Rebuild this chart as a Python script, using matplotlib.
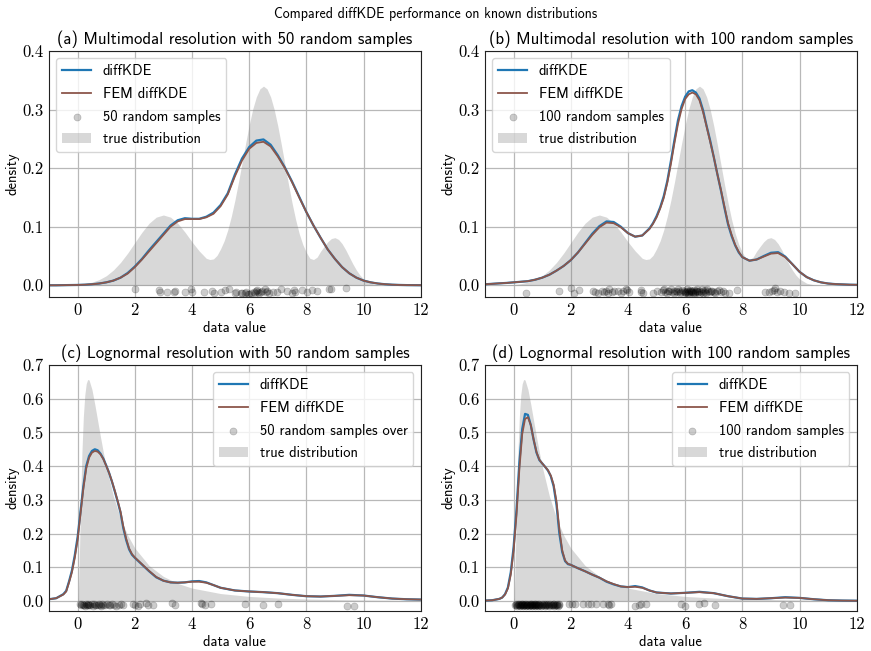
import matplotlib
matplotlib.use('Agg')
import matplotlib.pyplot as plt
import numpy as np

# --- data ---
# multimodal panels (a), (b)
x_true_mm = [-1, -0.75, -0.5, -0.25, 0, 0.25, 0.5, 0.75, 1, 1.25, 1.5, 1.75, 2, 2.25, 2.5,
             2.75, 3, 3.25, 3.5, 3.75, 4, 4.25, 4.5, 4.625, 4.75, 4.875, 5, 5.125, 5.25,
             5.375, 5.5, 5.625, 5.75, 5.875, 6, 6.125, 6.25, 6.375, 6.5, 6.625, 6.75,
             6.875, 7, 7.125, 7.25, 7.375, 7.5, 7.625, 7.75, 7.875, 8, 8.125, 8.25, 8.375,
             8.5, 8.625, 8.75, 8.875, 9, 9.125, 9.25, 9.375, 9.5, 9.625, 9.75, 9.875, 10,
             10.25, 10.5, 10.75, 11, 11.5, 12]
true_mm = [0.0, 0.0001, 0.0003, 0.0006, 0.0013, 0.0027, 0.0053, 0.0096, 0.0162, 0.0260,
           0.0390, 0.0549, 0.0728, 0.0906, 0.1059, 0.1163, 0.1200, 0.1163, 0.1060, 0.0910,
           0.0741, 0.0587, 0.0460, 0.0440, 0.0450, 0.0510, 0.0622, 0.0759, 0.0944, 0.1176,
           0.1451, 0.1759, 0.2089, 0.2421, 0.2735, 0.3009, 0.3216, 0.3353, 0.3400, 0.3353,
           0.3216, 0.3001, 0.2722, 0.2402, 0.2062, 0.1725, 0.1407, 0.1122, 0.0883, 0.0697,
           0.0560, 0.0460, 0.0440, 0.0480, 0.0582, 0.0665, 0.0744, 0.0798, 0.0813, 0.0783,
           0.0710, 0.0606, 0.0486, 0.0366, 0.0260, 0.0173, 0.0108, 0.0035, 0.0009, 0.0002,
           0.0, 0.0, 0.0]

x_a = np.arange(-1, 12.01, 0.25)
kde_a = [0.0, 0.0, 0.0002, 0.0004, 0.0006, 0.001, 0.0018, 0.003, 0.005, 0.008,
         0.013, 0.021, 0.032, 0.045, 0.060, 0.074, 0.088, 0.102, 0.111, 0.1145,
         0.1135, 0.1135, 0.117, 0.124, 0.137, 0.157, 0.189, 0.2165, 0.236, 0.247,
         0.249, 0.240, 0.222, 0.201, 0.177, 0.151, 0.125, 0.102, 0.081, 0.061,
         0.045, 0.031, 0.0205, 0.013, 0.008, 0.005, 0.003, 0.0018, 0.001, 0.0006,
         0.0003, 0.0002, 0.0001]
fem_a = [0.0, 0.0, 0.0002, 0.0004, 0.0006, 0.001, 0.0018, 0.003, 0.005, 0.008,
         0.013, 0.020, 0.031, 0.044, 0.058, 0.072, 0.086, 0.100, 0.109, 0.113,
         0.113, 0.113, 0.116, 0.122, 0.135, 0.155, 0.186, 0.213, 0.233, 0.243,
         0.245, 0.237, 0.220, 0.200, 0.176, 0.150, 0.125, 0.102, 0.081, 0.061,
         0.045, 0.031, 0.0205, 0.013, 0.008, 0.005, 0.003, 0.0018, 0.001, 0.0006,
         0.0003, 0.0002, 0.0001]

x_b = np.concatenate([np.arange(-1, 4.76, 0.25), np.arange(4.875, 8.01, 0.125),
                      np.arange(8.25, 12.01, 0.25)])
kde_b = [0.0017, 0.0025, 0.0033, 0.004, 0.005, 0.006, 0.007, 0.0095, 0.013, 0.018,
         0.025, 0.033, 0.043, 0.056, 0.072, 0.088, 0.101, 0.109, 0.108, 0.100,
         0.089, 0.083, 0.085, 0.097,
         0.106, 0.118, 0.133, 0.152, 0.178, 0.212, 0.248, 0.282, 0.306, 0.322,
         0.331, 0.333, 0.329, 0.319, 0.299, 0.272, 0.247, 0.219, 0.190, 0.162,
         0.132, 0.104, 0.084, 0.068, 0.056, 0.048,
         0.042, 0.044, 0.050, 0.0555, 0.0565, 0.049, 0.036, 0.023, 0.014, 0.0085,
         0.005, 0.003, 0.002, 0.0015, 0.001, 0.0008]
fem_b = [0.0017, 0.0025, 0.0033, 0.004, 0.005, 0.006, 0.007, 0.0095, 0.013, 0.018,
         0.025, 0.033, 0.043, 0.056, 0.071, 0.086, 0.099, 0.107, 0.106, 0.099,
         0.089, 0.083, 0.085, 0.096,
         0.105, 0.116, 0.131, 0.149, 0.175, 0.207, 0.243, 0.276, 0.301, 0.318,
         0.326, 0.329, 0.326, 0.316, 0.296, 0.271, 0.245, 0.219, 0.190, 0.163,
         0.134, 0.106, 0.086, 0.069, 0.057, 0.048,
         0.042, 0.044, 0.049, 0.054, 0.055, 0.048, 0.036, 0.023, 0.014, 0.0085,
         0.005, 0.003, 0.002, 0.0015, 0.001, 0.0008]

# lognormal panels (c), (d)
x_ln = [-1, -0.75, -0.5, -0.4, -0.3, -0.2, -0.1, 0, 0.1, 0.2, 0.3, 0.4, 0.5, 0.6, 0.7,
        0.8, 0.9, 1.0, 1.1, 1.2, 1.3, 1.4, 1.5, 1.6, 1.7, 1.8, 1.9, 2.0, 2.25, 2.5,
        2.75, 3, 3.25, 3.5, 3.75, 4, 4.25, 4.5, 4.75, 5, 5.5, 6, 6.5, 7, 7.5, 8, 8.5,
        9, 9.5, 10, 10.5, 11, 11.5, 12]

kde_c = [0.005, 0.008, 0.02, 0.03, 0.058, 0.09, 0.135, 0.19, 0.265, 0.34, 0.40, 0.43,
         0.445, 0.45, 0.447, 0.437, 0.422, 0.402, 0.38, 0.354, 0.325, 0.295, 0.262,
         0.215, 0.18, 0.153, 0.137, 0.128, 0.108, 0.088, 0.070, 0.060, 0.055, 0.054,
         0.055, 0.058, 0.059, 0.055, 0.047, 0.039, 0.031, 0.028, 0.026, 0.023, 0.018,
         0.014, 0.013, 0.015, 0.018, 0.016, 0.011, 0.007, 0.005, 0.004]
fem_c = [0.005, 0.008, 0.019, 0.028, 0.055, 0.085, 0.128, 0.182, 0.258, 0.333, 0.393,
         0.425, 0.440, 0.445, 0.443, 0.435, 0.421, 0.401, 0.38, 0.355, 0.327, 0.297,
         0.265, 0.22, 0.184, 0.156, 0.139, 0.129, 0.109, 0.089, 0.071, 0.060, 0.055,
         0.054, 0.055, 0.057, 0.057, 0.054, 0.047, 0.039, 0.031, 0.028, 0.026, 0.023,
         0.018, 0.014, 0.013, 0.015, 0.017, 0.016, 0.011, 0.007, 0.005, 0.004]

kde_d = [0.001, 0.002, 0.006, 0.01, 0.02, 0.04, 0.085, 0.16, 0.27, 0.41, 0.51, 0.555,
         0.552, 0.522, 0.478, 0.44, 0.418, 0.408, 0.398, 0.387, 0.37, 0.34, 0.285,
         0.20, 0.145, 0.118, 0.109, 0.107, 0.097, 0.088, 0.078, 0.069, 0.057, 0.049,
         0.043, 0.041, 0.044, 0.040, 0.031, 0.025, 0.022, 0.024, 0.027, 0.023, 0.014,
         0.007, 0.006, 0.008, 0.011, 0.009, 0.005, 0.002, 0.001, 0.0005]
fem_d = [0.001, 0.002, 0.006, 0.01, 0.019, 0.037, 0.078, 0.15, 0.255, 0.39, 0.495,
         0.54, 0.545, 0.522, 0.479, 0.442, 0.419, 0.408, 0.398, 0.388, 0.372, 0.345,
         0.295, 0.212, 0.15, 0.12, 0.11, 0.107, 0.097, 0.088, 0.078, 0.069, 0.058,
         0.050, 0.043, 0.041, 0.042, 0.039, 0.031, 0.025, 0.022, 0.024, 0.026, 0.023,
         0.014, 0.007, 0.006, 0.008, 0.010, 0.009, 0.005, 0.002, 0.001, 0.0005]

x_true_ln = [0, 0.02, 0.05, 0.1, 0.15, 0.2, 0.25, 0.3, 0.35, 0.4, 0.5, 0.6, 0.7, 0.8,
             0.9, 1, 1.25, 1.5, 1.75, 2, 2.5, 3, 3.5, 4, 5, 6, 7, 8, 9, 10, 11, 12]
true_ln = [0, 0.0095, 0.0898, 0.2815, 0.4399, 0.5463, 0.6104, 0.6442, 0.6569, 0.6555,
           0.6276, 0.5836, 0.5348, 0.4864, 0.4408, 0.3989, 0.3113, 0.2450, 0.1949,
           0.1569, 0.1049, 0.0727, 0.0520, 0.0381, 0.0219, 0.0134, 0.0086, 0.0057,
           0.0040, 0.0028, 0.0021, 0.0015]

# random samples (x position, small vertical offset below zero)
samp_a = [2.02, 2.85, 2.88, 3.13, 3.36, 3.42, 3.75, 3.97, 4.0, 4.41, 4.7, 4.76, 5.0,
          5.15, 5.29, 5.52, 5.55, 5.7, 5.75, 5.87, 5.9, 5.95, 5.99, 6.05, 6.16, 6.2,
          6.25, 6.28, 6.3, 6.35, 6.4, 6.45, 6.57, 6.6, 6.63, 6.7, 6.82, 6.98, 7.1,
          7.31, 7.5, 7.56, 7.62, 7.86, 8.03, 8.2, 8.36, 8.79, 8.85, 9.37]
jit_a = [-0.007, -0.008, -0.011, -0.011, -0.011, -0.010, -0.011, -0.006, -0.011, -0.011,
         -0.010, -0.014, -0.011, -0.008, -0.006, -0.014, -0.012, -0.014, -0.013, -0.014,
         -0.012, -0.015, -0.015, -0.013, -0.011, -0.013, -0.010, -0.008, -0.012, -0.014,
         -0.011, -0.009, -0.006, -0.012, -0.010, -0.014, -0.012, -0.011, -0.006, -0.010,
         -0.014, -0.008, -0.012, -0.008, -0.011, -0.008, -0.010, -0.006, -0.006, -0.005]

samp_b = [0.44, 1.57, 2.01, 2.12, 2.28, 2.76, 2.85, 2.95, 3.08, 3.15, 3.23, 3.3, 3.35,
          3.45, 3.52, 3.64, 3.75, 3.82, 3.93, 3.98, 4.02, 4.45, 4.47, 4.52, 4.86, 5.03,
          5.15, 5.22, 5.26, 5.3, 5.35, 5.4, 5.44, 5.5, 5.55, 5.6, 5.62, 5.67, 5.72,
          5.75, 5.79, 5.82, 5.86, 5.9, 5.96, 5.98, 6.0, 6.02, 6.05, 6.08, 6.1, 6.12,
          6.13, 6.15, 6.18, 6.2, 6.22, 6.25, 6.26, 6.28, 6.3, 6.33, 6.36, 6.38, 6.4,
          6.42, 6.45, 6.48, 6.5, 6.55, 6.6, 6.62, 6.64, 6.68, 6.71, 6.74, 6.77, 6.8,
          6.86, 6.9, 6.95, 7.02, 7.05, 7.12, 7.2, 7.25, 7.32, 7.41, 7.53, 7.82, 8.78,
          8.92, 9.05, 9.1, 9.15, 9.2, 9.33, 9.44, 9.62, 9.85]
jit_b = [-0.013, -0.010, -0.005, -0.014, -0.008, -0.009, -0.011, -0.014, -0.009, -0.012,
         -0.010, -0.013, -0.007, -0.011, -0.009, -0.010, -0.014, -0.009, -0.007, -0.008,
         -0.012, -0.008, -0.011, -0.013, -0.014, -0.010, -0.012, -0.008, -0.006, -0.011,
         -0.013, -0.009, -0.010, -0.007, -0.012, -0.014, -0.009, -0.010, -0.011, -0.006,
         -0.009, -0.013, -0.011, -0.008, -0.010, -0.012, -0.014, -0.011, -0.009, -0.007,
         -0.013, -0.010, -0.015, -0.012, -0.008, -0.011, -0.010, -0.009, -0.013, -0.012,
         -0.008, -0.014, -0.011, -0.009, -0.007, -0.010, -0.012, -0.015, -0.009, -0.011,
         -0.007, -0.013, -0.010, -0.008, -0.012, -0.014, -0.007, -0.010, -0.012, -0.009,
         -0.010, -0.011, -0.013, -0.009, -0.008, -0.012, -0.009, -0.014, -0.014, -0.008,
         -0.012, -0.012, -0.010, -0.008, -0.005, -0.011, -0.010, -0.012, -0.013, -0.013]

samp_c = [0.10, 0.13, 0.17, 0.20, 0.23, 0.26, 0.29, 0.32, 0.35, 0.38, 0.41, 0.45, 0.50,
          0.55, 0.58, 0.62, 0.66, 0.70, 0.74, 0.78, 0.82, 0.86, 0.90, 0.95, 1.02, 1.08,
          1.13, 1.20, 1.28, 1.35, 1.45, 1.50, 1.58, 1.94, 2.0, 2.11, 2.17, 2.38, 2.45,
          2.64, 3.3, 3.42, 4.3, 4.35, 4.47, 4.65, 5.85, 6.49, 7.02, 9.41, 9.66]
jit_c = [-0.010, -0.013, -0.009, -0.012, -0.011, -0.014, -0.010, -0.013, -0.009, -0.012,
         -0.011, -0.013, -0.010, -0.014, -0.009, -0.012, -0.011, -0.013, -0.010, -0.012,
         -0.014, -0.010, -0.011, -0.013, -0.009, -0.012, -0.013, -0.010, -0.011, -0.014,
         -0.012, -0.010, -0.013, -0.008, -0.012, -0.015, -0.008, -0.007, -0.011, -0.012,
         -0.007, -0.013, -0.007, -0.008, -0.011, -0.008, -0.008, -0.012, -0.010, -0.014,
         -0.016]

samp_d = [0.05, 0.08, 0.10, 0.12, 0.14, 0.16, 0.18, 0.20, 0.22, 0.24, 0.26, 0.27, 0.28,
          0.30, 0.32, 0.33, 0.34, 0.36, 0.38, 0.40, 0.42, 0.43, 0.44, 0.46, 0.48, 0.50,
          0.52, 0.54, 0.56, 0.57, 0.58, 0.60, 0.62, 0.63, 0.64, 0.66, 0.68, 0.70, 0.72,
          0.74, 0.75, 0.76, 0.78, 0.80, 0.82, 0.84, 0.86, 0.87, 0.88, 0.90, 0.92, 0.95,
          0.98, 1.00, 1.03, 1.06, 1.09, 1.10, 1.12, 1.15, 1.18, 1.21, 1.24, 1.25, 1.27,
          1.30, 1.33, 1.36, 1.39, 1.40, 1.42, 1.45, 1.48, 1.50, 1.52, 1.55, 1.57, 1.60,
          1.93, 2.05, 2.15, 2.42, 2.60, 2.69, 2.89, 3.12, 3.30, 3.35, 3.41, 4.26, 4.40,
          4.46, 4.64, 5.86, 6.01, 6.50, 6.65, 7.06, 9.41, 9.68]
jit_d = [-0.013, -0.010, -0.012, -0.014, -0.009, -0.011, -0.013, -0.010, -0.012, -0.014,
         -0.009, -0.011, -0.013, -0.010, -0.012, -0.014, -0.009, -0.011, -0.013, -0.010,
         -0.012, -0.014, -0.009, -0.011, -0.013, -0.010, -0.012, -0.014, -0.009, -0.011,
         -0.013, -0.010, -0.012, -0.014, -0.009, -0.011, -0.013, -0.010, -0.012, -0.014,
         -0.009, -0.011, -0.013, -0.010, -0.012, -0.014, -0.009, -0.011, -0.013, -0.010,
         -0.012, -0.014, -0.009, -0.011, -0.013, -0.010, -0.012, -0.014, -0.009, -0.011,
         -0.013, -0.010, -0.012, -0.014, -0.009, -0.011, -0.013, -0.010, -0.012, -0.014,
         -0.009, -0.011, -0.013, -0.010, -0.012, -0.014, -0.009, -0.011,
         -0.008, -0.010, -0.008, -0.009, -0.009, -0.008, -0.008, -0.009, -0.008, -0.012,
         -0.009, -0.015, -0.012, -0.010, -0.010, -0.009, -0.016, -0.008, -0.006, -0.012,
         -0.013, -0.013]

panels = [
    ('(a) Multimodal resolution with 50 random samples', x_a, kde_a, fem_a,
     x_true_mm, true_mm, samp_a, jit_a, '50 random samples', 'upper left', (-0.02, 0.4)),
    ('(b) Multimodal resolution with 100 random samples', x_b, kde_b, fem_b,
     x_true_mm, true_mm, samp_b, jit_b, '100 random samples', 'upper left', (-0.02, 0.4)),
    ('(c) Lognormal resolution with 50 random samples', x_ln, kde_c, fem_c,
     x_true_ln, true_ln, samp_c, jit_c, '50 random samples over', 'upper right', (-0.03, 0.7)),
    ('(d) Lognormal resolution with 100 random samples', x_ln, kde_d, fem_d,
     x_true_ln, true_ln, samp_d, jit_d, '100 random samples', 'upper right', (-0.03, 0.7)),
]

plt.rcParams['font.family'] = 'cmss10'
plt.rcParams['axes.formatter.use_mathtext'] = True

fig, axes = plt.subplots(2, 2, figsize=(8.71, 6.51), dpi=100)
fig.subplots_adjust(left=0.0563, right=0.9836, top=0.9217, bottom=0.0614,
                    wspace=0.173, hspace=0.2764)
fig.suptitle('Compared diffKDE performance on known distributions', fontsize=10, y=0.99)

for ax, (title, xk, kde, fem, xt, tru, samp, jit, slabel, loc, ylim) in zip(axes.flat, panels):
    ax.set_axisbelow(True)
    ax.grid(True, color='#b8b8b8', linewidth=0.9)
    fill = ax.fill_between(xt, tru, color='gray', alpha=0.3, linewidth=0, label='true distribution')
    sc = ax.scatter(samp, jit, s=26, color='k', alpha=0.2, linewidths=0.5, label=slabel)
    l1, = ax.plot(xk, kde, color='#1f77b4', linewidth=1.6, label='diffKDE')
    l2, = ax.plot(xk, fem, color='#8c564b', linewidth=1.3, label='FEM diffKDE')

    ax.set_xlim(-1, 12)
    ax.set_ylim(*ylim)
    xticks = [0, 2, 4, 6, 8, 10, 12]
    ax.set_xticks(xticks)
    ax.set_xticklabels([str(t) for t in xticks], fontfamily='cmr10', fontsize=12)
    yticks = np.round(np.arange(0, ylim[1] + 0.001, 0.1), 1)
    ax.set_yticks(yticks)
    ax.set_yticklabels([f'{t:.1f}' for t in yticks], fontfamily='cmr10', fontsize=12)
    ax.tick_params(length=0, pad=4)
    for sp in ax.spines.values():
        sp.set_color('#222222')

    ax.set_title(title, fontsize=12, pad=5)
    ax.set_xlabel('data value', fontsize=10.5, labelpad=2)
    ax.set_ylabel('density', fontsize=10.5, labelpad=2)
    ax.legend(handles=[l1, l2, sc, fill], loc=loc, fontsize=10.5, labelspacing=0.6)

plt.savefig('out.png', dpi=100)
